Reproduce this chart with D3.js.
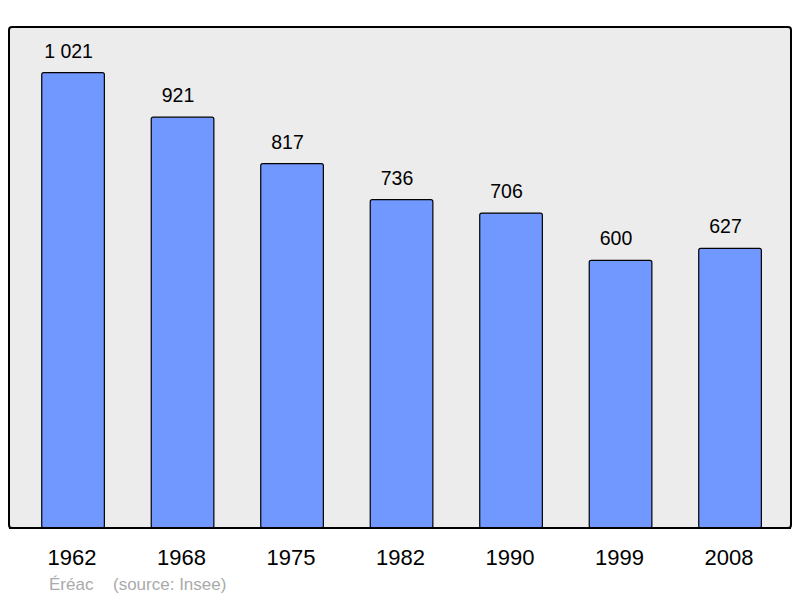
<!DOCTYPE html>
<html><head><meta charset="utf-8">
<script src="https://cdn.jsdelivr.net/npm/d3@7/dist/d3.min.js"></script>
<style>body{margin:0;background:#fff}svg{display:block;font-family:"Liberation Sans",Arial,sans-serif}</style>
</head><body>
<script>
const years = ["1962","1968","1975","1982","1990","1999","2008"];
const population = [1021,921,817,736,706,600,627];
const valueLabels = ["1 021","921","817","736","706","600","627"];
const town = "Éréac";
const source = "(source: Insee)";

const W = 800, H = 598;
const svg = d3.select("body").append("svg").attr("width", W).attr("height", H);

const frame = {x0: 9, x1: 791, y0: 27, y1: 528};
svg.append("rect").attr("x", frame.x0).attr("y", frame.y0)
  .attr("width", frame.x1 - frame.x0).attr("height", frame.y1 - frame.y0)
  .attr("rx", 3).attr("fill", "#ececec").attr("stroke", "#000").attr("stroke-width", 2);

const x = d3.scaleBand().domain(years).range([18.3, 784.8]).paddingInner(0.428).paddingOuter(0.214);
const y = d3.scaleLinear().domain([0, d3.max(population) * 1.1]).range([frame.y1, frame.y0]);

const g = svg.append("g");
g.selectAll("rect.bar").data(years).join("rect").attr("class", "bar")
  .attr("x", d => x(d)).attr("width", x.bandwidth())
  .attr("y", (d, i) => y(population[i])).attr("height", (d, i) => y(0) - y(population[i]))
  .attr("rx", 2).attr("fill", "#7198ff").attr("stroke", "#000").attr("stroke-width", 1.2);

g.selectAll("text.val").data(years).join("text").attr("class", "val")
  .attr("x", d => x(d) + x.bandwidth() / 2 - 4.5).attr("y", (d, i) => y(population[i]) - 15)
  .attr("text-anchor", "middle").attr("font-size", 19.5).attr("fill", "#000")
  .text((d, i) => valueLabels[i]);

// redraw frame bottom line over bars
svg.append("line").attr("x1", frame.x0).attr("x2", frame.x1).attr("y1", frame.y1).attr("y2", frame.y1)
  .attr("stroke", "#000").attr("stroke-width", 2);

g.selectAll("text.year").data(years).join("text").attr("class", "year")
  .attr("x", d => x(d) + x.bandwidth() / 2 - 1).attr("y", 565)
  .attr("text-anchor", "middle").attr("font-size", 22).attr("fill", "#000")
  .text(d => d);

svg.append("text").attr("x", 49).attr("y", 590).attr("font-size", 17).attr("fill", "#aaa").text(town);
svg.append("text").attr("x", 113).attr("y", 590).attr("font-size", 17).attr("fill", "#aaa").text(source);
</script>
</body></html>
